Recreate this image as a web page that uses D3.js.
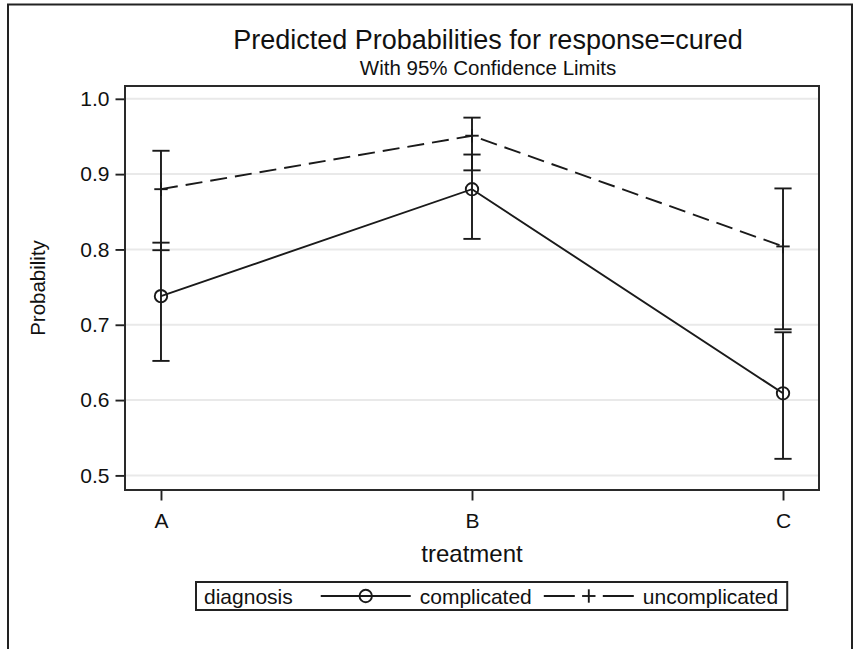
<!DOCTYPE html>
<html>
<head>
<meta charset="utf-8">
<script src="https://cdn.jsdelivr.net/npm/d3@7"></script>
<style>
  html, body { margin: 0; padding: 0; background: #fff; }
  svg { display: block; font-family: "Liberation Sans", Arial, sans-serif; }
</style>
</head>
<body>
<svg id="chart" width="860" height="649"></svg>
<script>
// Treatments on the x axis
const treatments = ["A", "B", "C"];

// Predicted probability of response=cured, with 95% confidence limits
const complicatedEst   = [0.738, 0.880, 0.609];
const complicatedLower = [0.652, 0.814, 0.522];
const complicatedUpper = [0.809, 0.926, 0.690];

const uncomplicatedEst   = [0.880, 0.951, 0.804];
const uncomplicatedLower = [0.799, 0.905, 0.694];
const uncomplicatedUpper = [0.931, 0.975, 0.881];

const yTicks = [0.5, 0.6, 0.7, 0.8, 0.9, 1.0];

const series = [
  { name: "complicated",   est: complicatedEst,   lo: complicatedLower,   hi: complicatedUpper,   dash: null,   marker: "circle" },
  { name: "uncomplicated", est: uncomplicatedEst, lo: uncomplicatedLower, hi: uncomplicatedUpper, dash: "17,8", marker: "plus" }
];

const ink = "#1a1a1a";
const sw = 1.9;
const svg = d3.select("#chart");

// outer graph border (its bottom edge lies below the canvas)
svg.append("rect")
  .attr("x", 8).attr("y", 4.5).attr("width", 844).attr("height", 700)
  .attr("fill", "none").attr("stroke", "#222").attr("stroke-width", 2);

const plot = { left: 125, right: 819, top: 86, bottom: 490 };

const x = d3.scalePoint().domain(treatments).range([plot.left, plot.right]).padding(0.1157);
const y = d3.scaleLinear().domain([0.5, 1.0]).range([475.4, 98.8]);

// gridlines
svg.append("g").selectAll("line").data(yTicks).join("line")
  .attr("x1", plot.left).attr("x2", plot.right)
  .attr("y1", d => y(d)).attr("y2", d => y(d))
  .attr("stroke", "#e9e9e9").attr("stroke-width", 2);

// axes
const yAxis = svg.append("g").attr("transform", `translate(${plot.left},0)`)
  .call(d3.axisLeft(y).tickValues(yTicks).tickFormat(d3.format(".1f")).tickSize(9.5).tickPadding(6));
const xAxis = svg.append("g").attr("transform", `translate(0,${plot.bottom})`)
  .call(d3.axisBottom(x).tickSize(10.5).tickPadding(13));
[yAxis, xAxis].forEach(g => {
  g.select(".domain").remove();
  g.selectAll(".tick line").attr("stroke", "#222").attr("stroke-width", sw);
  g.selectAll(".tick text").attr("fill", "#111").style("font-size", "21px");
});

// plot frame
svg.append("rect")
  .attr("x", plot.left).attr("y", plot.top)
  .attr("width", plot.right - plot.left).attr("height", plot.bottom - plot.top)
  .attr("fill", "none").attr("stroke", "#2a2a2a").attr("stroke-width", 2);

// error bars
const capHalf = 8.6;
series.forEach(s => {
  const g = svg.append("g");
  const idx = d3.range(treatments.length);
  g.selectAll("line.bar").data(idx).join("line").attr("class", "bar")
    .attr("x1", i => x(treatments[i])).attr("x2", i => x(treatments[i]))
    .attr("y1", i => y(s.lo[i])).attr("y2", i => y(s.hi[i]))
    .attr("stroke", ink).attr("stroke-width", sw);
  ["lo", "hi"].forEach(k => {
    g.selectAll("line.cap-" + k).data(idx).join("line").attr("class", "cap-" + k)
      .attr("x1", i => x(treatments[i]) - capHalf).attr("x2", i => x(treatments[i]) + capHalf)
      .attr("y1", i => y(s[k][i])).attr("y2", i => y(s[k][i]))
      .attr("stroke", ink).attr("stroke-width", sw);
  });
});

// connecting lines and markers
const line = d3.line().x((d, i) => x(treatments[i])).y(d => y(d));
function drawMarker(g, type, cx, cy) {
  if (type === "circle") {
    g.append("circle").attr("cx", cx).attr("cy", cy).attr("r", 6.2)
      .attr("fill", "none").attr("stroke", ink).attr("stroke-width", sw);
  } else {
    g.append("line").attr("x1", cx - 6.7).attr("x2", cx + 6.7).attr("y1", cy).attr("y2", cy)
      .attr("stroke", ink).attr("stroke-width", sw);
    g.append("line").attr("x1", cx).attr("x2", cx).attr("y1", cy - 6.7).attr("y2", cy + 6.7)
      .attr("stroke", ink).attr("stroke-width", sw);
  }
}
series.forEach(s => {
  svg.append("path").datum(s.est).attr("d", line)
    .attr("fill", "none").attr("stroke", ink).attr("stroke-width", sw)
    .attr("stroke-dasharray", s.dash);
  const mg = svg.append("g");
  s.est.forEach((v, i) => drawMarker(mg, s.marker, x(treatments[i]), y(v)));
});

// titles
const titleX = 488;
svg.append("text").attr("x", titleX).attr("y", 49).attr("text-anchor", "middle")
  .style("font-size", "27px").attr("fill", "#111")
  .text("Predicted Probabilities for response=cured");
svg.append("text").attr("x", titleX).attr("y", 75).attr("text-anchor", "middle")
  .style("font-size", "20.5px").attr("fill", "#111")
  .text("With 95% Confidence Limits");

// axis labels
svg.append("text").attr("transform", `translate(45,${(plot.top + plot.bottom) / 2}) rotate(-90)`)
  .attr("text-anchor", "middle").style("font-size", "20.5px").attr("fill", "#111")
  .text("Probability");
svg.append("text").attr("x", x("B")).attr("y", 562).attr("text-anchor", "middle")
  .style("font-size", "24px").attr("fill", "#111")
  .text("treatment");

// legend
const leg = svg.append("g");
const legTop = 582, legH = 28, legLeft = 196, fs = 21;
const legMid = legTop + legH / 2;
let cursor = legLeft + 8;
function legText(t) {
  const el = leg.append("text").attr("x", cursor).attr("y", legMid + 7.5)
    .style("font-size", fs + "px").attr("fill", "#111").text(t);
  cursor += el.node().getComputedTextLength();
}
legText("diagnosis");
cursor += 28;
series.forEach((s, k) => {
  const len = 90;
  leg.append("line").attr("x1", cursor).attr("x2", cursor + len)
    .attr("y1", legMid).attr("y2", legMid)
    .attr("stroke", ink).attr("stroke-width", sw)
    .attr("stroke-dasharray", s.dash ? "31,28" : null);
  drawMarker(leg, s.marker, cursor + len / 2, legMid);
  cursor += len + 9;
  legText(s.name);
  cursor += k === 0 ? 12 : 9;
});
leg.insert("rect", ":first-child")
  .attr("x", legLeft).attr("y", legTop).attr("width", cursor - legLeft).attr("height", legH)
  .attr("fill", "#fff").attr("stroke", "#222").attr("stroke-width", 2);
</script>
</body>
</html>
